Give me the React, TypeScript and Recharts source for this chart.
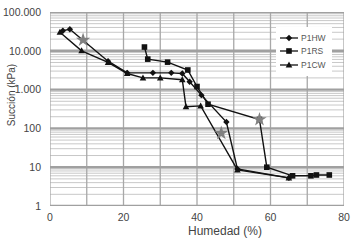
import React from 'react';
import { ComposedChart, Line, Scatter, XAxis, YAxis } from 'recharts';

const humedadTicks = [0, 20, 40, 60, 80];
const gridX = [0, 10, 20, 30, 40, 50, 60, 70, 80];
const succionTicks = [1, 10, 100, 1000, 10000, 100000];
const minorMultipliers = [2, 3, 4, 5, 6, 7, 8, 9];

const p1hwX = [3.5, 5.4, 15.8, 21, 28, 33, 36, 38, 41.2, 48, 51, 65];
const p1hwY = [33000, 36000, 5400, 2700, 2700, 2700, 2600, 1600, 720, 146, 9, 5.3];

const p1rsX = [25.7, 26.6, 32, 37.5, 40, 43, 57, 59, 66, 71, 72.5, 76];
const p1rsY = [12500, 6100, 5100, 3200, 1200, 420, 170, 10, 6, 6, 6.3, 6.3];

const p1cwX = [2.7, 8.6, 15.8, 21, 25.3, 30, 36, 37, 41, 51, 65];
const p1cwY = [30000, 10000, 5000, 2600, 2000, 2000, 1800, 360, 380, 8.5, 5.3];

const starX = [9, 46.6, 57];
const starY = [19000, 76, 170];

const seriesNames = ['P1HW', 'P1RS', 'P1CW'];

const toPoints = (xs: number[], ys: number[]) => xs.map((x, i) => ({ x, y: ys[i] }));
const p1hw = toPoints(p1hwX, p1hwY);
const p1rs = toPoints(p1rsX, p1rsY);
const p1cw = toPoints(p1cwX, p1cwY);
const stars = toPoints(starX, starY);

const minorY: number[] = [];
succionTicks.slice(0, -1).forEach((d) => minorMultipliers.forEach((m) => minorY.push(d * m)));

const xMin = gridX[0];
const xMax = gridX[gridX.length - 1];
const yMin = succionTicks[0];
const yMax = succionTicks[succionTicks.length - 1];

const fmt = (v: number) => String(v).replace(/\B(?=(\d{3})+(?!\d))/g, '.');

const Diamond = (props: any) => {
  const { cx, cy } = props;
  if (cx == null || cy == null) return null;
  return <path d={`M${cx},${cy - 3.2}L${cx + 3.2},${cy}L${cx},${cy + 3.2}L${cx - 3.2},${cy}Z`} fill="#111" />;
};
const Square = (props: any) => {
  const { cx, cy } = props;
  if (cx == null || cy == null) return null;
  return <rect x={cx - 2.8} y={cy - 2.8} width={5.6} height={5.6} fill="#111" />;
};
const Triangle = (props: any) => {
  const { cx, cy } = props;
  if (cx == null || cy == null) return null;
  return <path d={`M${cx},${cy - 3.5}L${cx + 3.3},${cy + 2.5}L${cx - 3.3},${cy + 2.5}Z`} fill="#111" />;
};
const shapes = [Diamond, Square, Triangle];

const LegendBox = () => (
  <div style={{ position: 'absolute', left: 276, top: 27, background: '#fff', padding: '4px 2px', width: 52 }}>
    {seriesNames.map((n, i) => {
      const Shape = shapes[i];
      return (
        <div key={n} style={{ display: 'flex', alignItems: 'center', height: 13.5 }}>
          <svg width={22} height={10}>
            <line x1={2} y1={5} x2={20} y2={5} stroke="#111" strokeWidth={1.3} />
            <Shape cx={11} cy={5} />
          </svg>
          <span style={{ fontFamily: 'Liberation Sans, Arial, sans-serif', fontSize: 8.5, color: '#555', marginLeft: 1 }}>{n}</span>
        </div>
      );
    })}
  </div>
);

const YLabel = (props: any) => {
  const vb = props.viewBox || {};
  const x = (vb.x || 0) + 11;
  const y = (vb.y || 0) + (vb.height || 0) / 2 - 14;
  return (
    <text x={x} y={y} transform={`rotate(-90, ${x}, ${y})`} textAnchor="middle" dominantBaseline="central"
      fontFamily="Liberation Sans, Arial, sans-serif" fontSize={10} fill="#444">
      Succión (kPa)
    </text>
  );
};

export default function App() {
  const tickStyle = { fontFamily: 'Liberation Sans, Arial, sans-serif', fontSize: 10.5, fill: '#444' };
  return (
    <div style={{ position: 'absolute', left: 0, top: 0, background: '#fff', width: 361, height: 243 }}>
      <ComposedChart width={361} height={243} margin={{ top: 12, right: 17, bottom: 0, left: 0 }}>
        <XAxis type="number" dataKey="x" domain={[xMin, xMax]} ticks={humedadTicks} axisLine={false} tickLine={false}
          tick={tickStyle} height={37} tickMargin={2} allowDataOverflow
          label={{ value: 'Humedad (%)', position: 'insideBottom', offset: 8, dx: 28, style: { fontFamily: 'Liberation Sans, Arial, sans-serif', fontSize: 12, fill: '#444' } }} />
        <YAxis type="number" dataKey="y" scale="log" domain={[yMin, yMax]} ticks={succionTicks} tickFormatter={fmt}
          axisLine={false} tickLine={false} tick={tickStyle} width={50} tickMargin={3} allowDataOverflow
          label={<YLabel />} />
        {minorY.map((v) => (
          <Line key={'m' + v} data={[{ x: xMin, y: v }, { x: xMax, y: v }]} dataKey="y" stroke="#c8c8c8" strokeWidth={1}
            dot={false} activeDot={false} legendType="none" isAnimationActive={false} />
        ))}
        {gridX.map((v) => (
          <Line key={'x' + v} data={[{ x: v, y: yMin }, { x: v, y: yMax }]} dataKey="y" stroke="#a8a8a8" strokeWidth={1.3}
            dot={false} activeDot={false} legendType="none" isAnimationActive={false} />
        ))}
        {succionTicks.map((v) => (
          <Line key={'d' + v} data={[{ x: xMin, y: v }, { x: xMax, y: v }]} dataKey="y" stroke="#a0a0a0" strokeWidth={2.4}
            dot={false} activeDot={false} legendType="none" isAnimationActive={false} />
        ))}
        <Line data={p1hw} dataKey="y" name="P1HW" stroke="#111" strokeWidth={1.4} dot={<Diamond />} isAnimationActive={false} />
        <Line data={p1rs} dataKey="y" name="P1RS" stroke="#111" strokeWidth={1.4} dot={<Square />} isAnimationActive={false} />
        <Line data={p1cw} dataKey="y" name="P1CW" stroke="#111" strokeWidth={1.4} dot={<Triangle />} isAnimationActive={false} />
        <Scatter data={stars} dataKey="y" shape="star" fill="#808080" legendType="none" isAnimationActive={false} />
      </ComposedChart>
      <LegendBox />
    </div>
  );
}
